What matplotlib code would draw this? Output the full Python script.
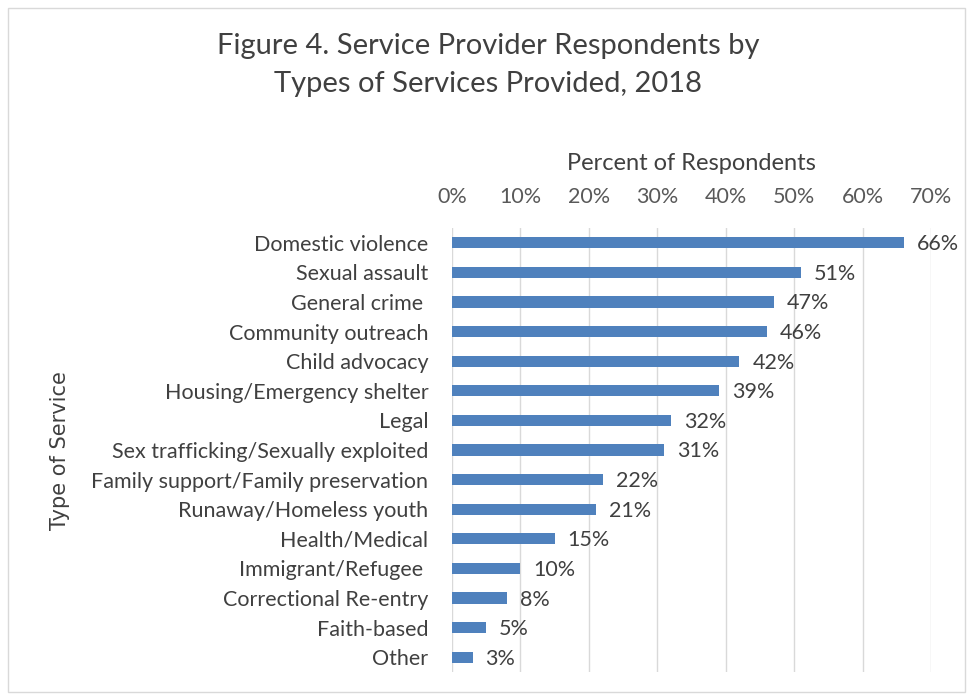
import matplotlib.pyplot as plt
from matplotlib.patches import Rectangle

services = ['Domestic violence', 'Sexual assault', 'General crime ', 'Community outreach',
            'Child advocacy', 'Housing/Emergency shelter', 'Legal',
            'Sex trafficking/Sexually exploited', 'Family support/Family preservation',
            'Runaway/Homeless youth', 'Health/Medical', 'Immigrant/Refugee ',
            'Correctional Re-entry', 'Faith-based', 'Other']
percent = [66, 51, 47, 46, 42, 39, 32, 31, 22, 21, 15, 10, 8, 5, 3]
ticks = [0, 10, 20, 30, 40, 50, 60, 70]

plt.rcParams['font.family'] = ['Lato', 'DejaVu Sans']

fig = plt.figure(figsize=(9.67, 6.98), dpi=100)
ax = fig.add_axes([0.4674, 0.0372, 0.4953, 0.6362])

# outer chart border
fig.patches.append(Rectangle((0.008, 0.008), 0.99, 0.981, transform=fig.transFigure,
                             fill=False, edgecolor='#d9d9d9', linewidth=1))

y = list(range(len(services)))
ax.barh(y, percent, height=0.38, color='#4f81bd', zorder=3)
for yi, v in zip(y, percent):
    ax.text(v + 1.9, yi + 0.05, f'{v}%', va='center', ha='left', fontsize=15.5, color='#404040')

ax.set_xlim(0, 70)
ax.set_ylim(len(services) - 0.5, -0.5)
ax.set_yticks(y)
ax.set_yticklabels(services, fontsize=15.5, color='#404040')
ax.set_xticks(ticks)
ax.set_xticklabels([f'{t}%' for t in ticks], fontsize=15.5, color='#595959')
ax.xaxis.tick_top()
ax.xaxis.set_label_position('top')
ax.set_xlabel('Percent of Respondents', fontsize=17, color='#404040', labelpad=12)
ax.tick_params(axis='both', length=0)
ax.tick_params(axis='x', pad=15)
ax.tick_params(axis='y', pad=17)
ax.grid(axis='x', color='#d9d9d9', linewidth=1, zorder=0)
for s in ax.spines.values():
    s.set_visible(False)

fig.text(0.062, 0.355, 'Type of Service', rotation=90, ha='center', va='center',
         fontsize=15, color='#404040', family='DejaVu Sans')
fig.text(0.505, 0.907, 'Figure 4. Service Provider Respondents by\nTypes of Services Provided, 2018',
         ha='center', va='center', fontsize=21, color='#404040', linespacing=1.55)

fig.savefig('out.png', dpi=100)
